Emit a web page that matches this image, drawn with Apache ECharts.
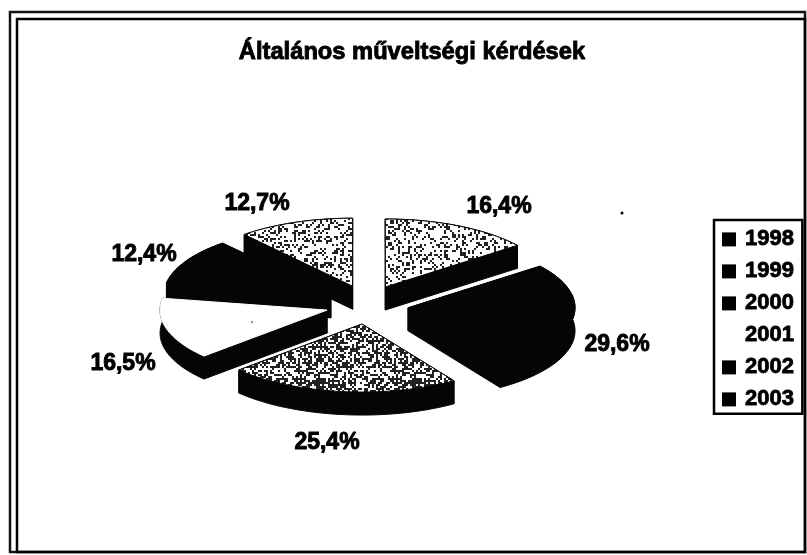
<!DOCTYPE html>
<html>
<head>
<meta charset="utf-8">
<style>
html,body{margin:0;padding:0;background:#fff;}
#main1{width:807px;height:555px;filter:blur(0.7px);}
</style>
<script src="https://cdn.jsdelivr.net/npm/echarts@6/dist/echarts.min.js"></script>
</head>
<body>
<div id="main1"></div>
<script>
var years = ['1998', '1999', '2000', '2001', '2002', '2003'];
var percents = [16.4, 29.6, 25.4, 16.5, 12.4, 12.7];
var percentLabels = ['16,4%', '29,6%', '25,4%', '16,5%', '12,4%', '12,7%'];

// back to front, so the nearer slices cover the farther ones
var drawOrder = [5, 0, 4, 1, 3, 2];

var dom = document.getElementById('main1');
var myChart = echarts.init(dom);

// squashed pie geometry
var cx = 367, cy = 304.6, rx = 167, ry = 68, depth = 23;
var explodeX = 41.6, explodeY = 19.6;
var labelPos = [[499, 207], [617, 345], [327, 443], [123, 364], [144, 255], [257, 204]];
var font = 'Liberation Sans, Arial, sans-serif';

var total = 0;
for (var i = 0; i < percents.length; i++) total += percents[i];

function startAngle(idx) {
	var s = 0;
	for (var i = 0; i < idx; i++) s += percents[i];
	return s / total * Math.PI * 2;
}

// speckle texture, dark is the share of black pixels
function speckle(dark, seed) {
	var c = document.createElement('canvas');
	c.width = 96; c.height = 96;
	var ctx = c.getContext('2d');
	ctx.fillStyle = '#fff';
	ctx.fillRect(0, 0, 96, 96);
	ctx.fillStyle = '#222';
	for (var y = 0; y < 96; y += 2) {
		for (var x = 0; x < 96; x += 2) {
			var h = Math.sin(x * 12.9898 + y * 78.233 + seed) * 43758.5453;
			if (h - Math.floor(h) < dark) ctx.fillRect(x, y, 2, 2);
		}
	}
	return { image: c, repeat: 'repeat' };
}

var sideColor = '#050505';
var fills = [speckle(0.3, 1), sideColor, speckle(0.55, 2), '#fff', sideColor, speckle(0.32, 3)];

function slicePart(idx, value) {
	var a0 = startAngle(idx);
	var a1 = a0 + value / total * Math.PI * 2;
	var mid = (a0 + a1) / 2;
	var ax = cx + explodeX * Math.sin(mid);
	var ay = cy - explodeY * Math.cos(mid);
	var arc = [];
	var steps = 40;
	for (var i = 0; i <= steps; i++) {
		var t = a0 + (a1 - a0) * i / steps;
		arc.push([ax + rx * Math.sin(t), ay - ry * Math.cos(t)]);
	}
	var shifted = arc.map(function (p) { return [p[0], p[1] + depth]; });
	var band = arc.concat(shifted.slice().reverse());
	var first = arc[0], last = arc[steps];
	var sideStyle = { fill: sideColor, stroke: sideColor, lineWidth: 1 };
	return {
		type: 'group',
		children: [
			{ type: 'polygon', shape: { points: band }, style: sideStyle },
			{ type: 'polygon', shape: { points: [[ax, ay], first, [first[0], first[1] + depth], [ax, ay + depth]] }, style: sideStyle },
			{ type: 'polygon', shape: { points: [[ax, ay], last, [last[0], last[1] + depth], [ax, ay + depth]] }, style: sideStyle },
			{ type: 'polygon', shape: { points: [[ax, ay]].concat(arc) }, style: { fill: fills[idx], stroke: fills[idx] === '#fff' ? '#fff' : sideColor, lineWidth: 1 } },
			{
				type: 'text',
				style: {
					x: labelPos[idx][0], y: labelPos[idx][1],
					text: percentLabels[idx],
					fill: '#000',
					stroke: '#000',
					lineWidth: 0.9,
					font: 'bold 23px ' + font,
					align: 'center', verticalAlign: 'middle'
				}
			}
		]
	};
}

var series = drawOrder.map(function (idx, n) {
	return {
		name: years[idx],
		type: 'custom',
		coordinateSystem: 'none',
		z: 2 + n,
		silent: true,
		itemStyle: { color: years[idx] === '2001' ? '#fff' : '#000' },
		data: [[percents[idx]]],
		renderItem: function (params, api) {
			return slicePart(idx, api.value(0));
		}
	};
});

var option = {
	backgroundColor: '#fff',
	animation: false,
	title: {
		text: 'Általános műveltségi kérdések',
		left: 407,
		top: 35,
		textAlign: 'center',
		textStyle: { color: '#000', fontFamily: font, fontWeight: 'bold', fontSize: 23.7, textBorderColor: '#000', textBorderWidth: 0.9 }
	},
	legend: {
		orient: 'vertical',
		left: 714,
		top: 220,
		data: years,
		icon: 'rect',
		itemWidth: 14,
		itemHeight: 14,
		itemGap: 9.2,
		itemStyle: { borderWidth: 0 },
		selectedMode: false,
		padding: [8, 8, 3, 8],
		backgroundColor: '#fff',
		borderColor: '#000',
		borderWidth: 2.5,
		textStyle: { color: '#000', fontFamily: font, fontWeight: 'bold', fontSize: 22, lineHeight: 18, padding: [0, 0, 0, 4], textBorderColor: '#000', textBorderWidth: 0.8 }
	},
	// double frame around the sheet, plus two scan specks
	graphic: [
		{ type: 'rect', z: 0, shape: { x: 10, y: 12, width: 795, height: 540 }, style: { fill: 'none', stroke: '#111', lineWidth: 2.5 } },
		{ type: 'rect', z: 0, shape: { x: 17, y: 19, width: 788, height: 533 }, style: { fill: 'none', stroke: '#000', lineWidth: 2.5 } },
		{ type: 'circle', z: 0, shape: { cx: 622, cy: 213, r: 1.5 }, style: { fill: '#000' } },
		{ type: 'circle', z: 20, shape: { cx: 252, cy: 322, r: 1.2 }, style: { fill: '#999' } }
	],
	series: series
};
myChart.setOption(option, true);
</script>
</body>
</html>
